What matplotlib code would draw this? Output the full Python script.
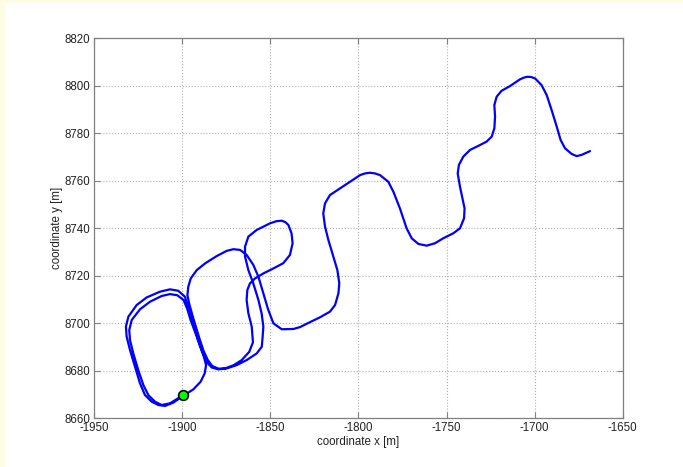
import numpy as np
import matplotlib
matplotlib.use("Agg")
import matplotlib.pyplot as plt
from matplotlib.patches import Rectangle

# track of the vehicle (from the far right end back to the start marker)
track_x = [-1668.6, -1673.4, -1676.2, -1679.0, -1682.8, -1685.3, -1687.5, -1690.4, -1693.2, -1696.1,
           -1699.8, -1702.0, -1704.2, -1706.3, -1708.4, -1714.0, -1718.8, -1721.6, -1722.9, -1722.5,
           -1722.9, -1724.4, -1727.3, -1732.0, -1736.7, -1740.5, -1743.0, -1743.7, -1742.4, -1740.8,
           -1739.8, -1740.1, -1742.4, -1746.2, -1751.9, -1756.6, -1761.3, -1766.0, -1769.8, -1772.7,
           -1776.5, -1780.2, -1783.1, -1787.8, -1790.6, -1793.5, -1796.3, -1799.1, -1804.8, -1810.5,
           -1816.2, -1819.0, -1820.0, -1819.0, -1817.1, -1814.3, -1812.0, -1810.9, -1811.4, -1813.3,
           -1816.2, -1821.9, -1827.5, -1833.2, -1837.0, -1843.6, -1848.3, -1851.2, -1854.0, -1856.8,
           -1859.7, -1863.5, -1867.2, -1871.0, -1874.8, -1880.5, -1887.1, -1891.8, -1895.2, -1896.6,
           -1897.1, -1896.0, -1894.3, -1892.3, -1890.0, -1888.0, -1885.5, -1883.0, -1879.5, -1875.8,
           -1871.0, -1866.3, -1862.0, -1859.9, -1860.6, -1862.5, -1863.5, -1863.1, -1861.6, -1858.7,
           -1854.0, -1848.3, -1842.7, -1838.9, -1837.4, -1838.0, -1839.8, -1841.5, -1843.6, -1846.5,
           -1850.2, -1857.8, -1862.5, -1864.4, -1864.4, -1862.5, -1859.7, -1856.8, -1855.0, -1854.0,
           -1854.4, -1854.9, -1857.8, -1863.5, -1869.1, -1874.8, -1879.5, -1883.3, -1885.3, -1887.0,
           -1889.0, -1891.0, -1893.2, -1895.0, -1896.8, -1898.5, -1902.3, -1907.0, -1912.7, -1920.2,
           -1925.9, -1930.6, -1932.0, -1931.6, -1929.7, -1926.8, -1924.0, -1921.2, -1917.4, -1913.6,
           -1909.8, -1905.1, -1899.4, -1893.7, -1889.6, -1887.3, -1886.5, -1887.8, -1889.8, -1892.5,
           -1895.3, -1897.3, -1899.3, -1902.8, -1907.0, -1911.7, -1918.3, -1924.0, -1928.7, -1930.1,
           -1929.7, -1927.8, -1925.0, -1922.1, -1919.3, -1915.5, -1911.7, -1907.0, -1899.4]
track_y = [8772.5, 8770.9, 8770.4, 8771.3, 8773.7, 8777.2, 8782.8, 8789.8, 8796.1, 8800.3,
           8803.1, 8803.7, 8803.8, 8803.4, 8802.7, 8799.9, 8797.9, 8795.4, 8791.9, 8787.0,
           8782.1, 8778.6, 8776.5, 8774.7, 8773.0, 8770.2, 8766.7, 8763.1, 8757.5, 8752.0,
           8748.4, 8744.2, 8740.0, 8737.9, 8735.8, 8733.7, 8732.7, 8733.4, 8735.8, 8740.0,
           8748.4, 8755.4, 8759.6, 8762.4, 8763.1, 8763.4, 8763.1, 8762.4, 8759.6, 8756.8,
           8754.0, 8750.5, 8746.3, 8740.7, 8735.1, 8728.1, 8722.4, 8716.8, 8712.6, 8707.7,
           8704.9, 8702.5, 8700.5, 8698.4, 8697.6, 8697.5, 8700.0, 8705.6, 8712.6, 8719.6,
           8724.6, 8728.8, 8730.9, 8731.2, 8730.5, 8728.3, 8725.2, 8722.4, 8718.9, 8715.4,
           8711.9, 8708.0, 8703.5, 8698.5, 8693.0, 8688.5, 8684.5, 8682.0, 8680.9, 8681.0,
           8682.3, 8684.5, 8688.0, 8692.0, 8698.6, 8704.2, 8709.8, 8714.0, 8716.8, 8718.9,
           8721.0, 8723.1, 8725.3, 8728.8, 8733.7, 8737.9, 8741.4, 8742.6, 8743.2, 8743.0,
           8742.1, 8739.3, 8736.5, 8732.3, 8728.1, 8722.4, 8716.8, 8709.8, 8704.2, 8698.6,
           8694.4, 8690.1, 8687.3, 8684.5, 8682.4, 8681.0, 8680.6, 8681.4, 8683.0, 8685.2,
           8688.8, 8693.0, 8698.6, 8702.8, 8707.0, 8711.2, 8713.7, 8714.3, 8713.3, 8710.9,
           8707.7, 8702.8, 8698.6, 8694.4, 8688.8, 8681.7, 8674.7, 8669.8, 8667.0, 8665.6,
           8665.2, 8666.6, 8669.5, 8672.2, 8675.4, 8678.9, 8682.4, 8686.0, 8690.2, 8695.8,
           8701.4, 8706.3, 8709.8, 8711.8, 8712.3, 8711.5, 8709.1, 8705.9, 8701.4, 8697.2,
           8693.0, 8687.3, 8680.3, 8674.0, 8669.8, 8667.0, 8665.6, 8666.3, 8669.8]

# start marker
start_x = [-1899.5]
start_y = [8669.8]

x_ticks = [-1950, -1900, -1850, -1800, -1750, -1700, -1650]
y_ticks = [8660, 8680, 8700, 8720, 8740, 8760, 8780, 8800, 8820]

plt.rcParams['font.family'] = ['Liberation Sans', 'DejaVu Sans']
plt.rcParams['axes.unicode_minus'] = False

fig = plt.figure(figsize=(6.83, 4.67), dpi=100)
fig.patch.set_facecolor('#fdfde6')
# white page area, leaving the thin yellow strip at left and top
page = Rectangle((5 / 683, 0), 1, 1 - 3 / 467, transform=fig.transFigure,
                 facecolor='white', edgecolor='none')
page.set_zorder(-10)
fig.add_artist(page)

ax = fig.add_axes([94.2 / 683, 1 - 418.3 / 467, 528.6 / 683, 380 / 467])
ax.set_zorder(1)
ax.plot(track_x, track_y, color='#0000ff', linewidth=1.6,
        solid_joinstyle='round', solid_capstyle='round')
ax.plot(start_x, start_y, 'o', markersize=7, markerfacecolor='#00ff00',
        markeredgecolor='black', markeredgewidth=1.2)

ax.set_xlim(-1950, -1650)
ax.set_ylim(8660, 8820)
ax.set_xticks(x_ticks)
ax.set_yticks(y_ticks)
ax.grid(True, linestyle=':', color='#b0b0b0', linewidth=0.8)
for s in ax.spines.values():
    s.set_color('#808080')
    s.set_linewidth(0.9)
ax.tick_params(direction='in', length=4, color='#808080', labelsize=8.3, pad=3,
               top=True, right=True, labelcolor='#222222')
ax.set_xlabel('coordinate x [m]', fontsize=8.3, labelpad=1, color='#222222')
ax.set_ylabel('coordinate y [m]', fontsize=8.3, labelpad=1, color='#222222')

fig.savefig('out.png', dpi=100, facecolor=fig.get_facecolor())
